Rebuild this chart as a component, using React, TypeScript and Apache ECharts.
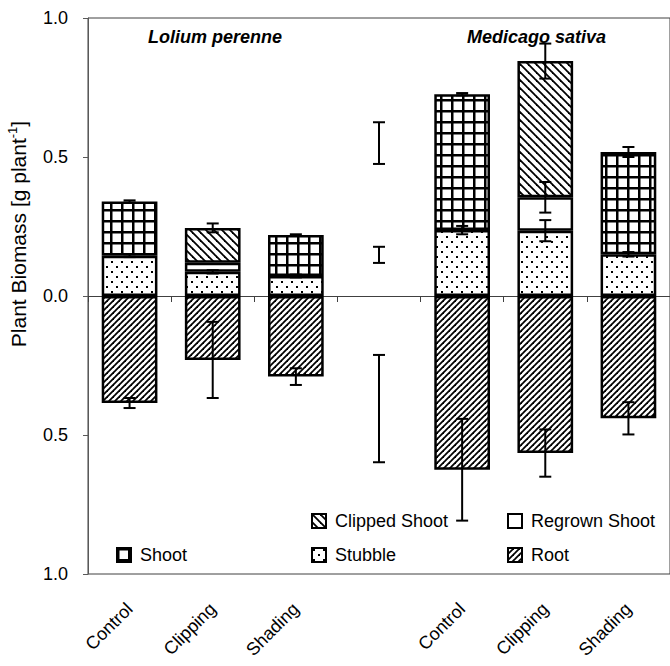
import React, { useEffect, useRef } from 'react';
import * as echarts from 'echarts';

const categories = ['Control', 'Clipping', 'Shading', '', 'Control', 'Clipping', 'Shading'];
const stubble = [0.145, 0.087, 0.072, null, 0.237, 0.235, 0.15];
const regrown = [null, 0.033, null, null, null, 0.12, null];
const clipped = [null, 0.125, null, null, null, 0.49, null];
const shoot = [0.195, null, 0.147, null, 0.489, null, 0.368];
const root = [-0.385, -0.23, -0.29, null, -0.625, -0.565, -0.44];

const stubbleErr = [0.005, 0.006, 0.005, null, 0.015, 0.038, 0.008];
const regrownErr = [null, null, null, null, null, 0.055, null];
const clippedErr = [null, 0.016, null, null, null, 0.063, null];
const shootErr = [0.004, null, 0.003, null, 0.004, null, 0.018];
const rootErr = [0.018, 0.137, 0.03, null, 0.183, 0.085, 0.058];

const lsdCategory = 3;
const lsdCenter = [0.55, 0.148, -0.405];
const lsdHalf = [0.075, 0.029, 0.193];

const FONT = '"Liberation Sans", Arial, sans-serif';

function makePattern(w: number, h: number, draw: (ctx: CanvasRenderingContext2D) => void) {
  const c = document.createElement('canvas');
  c.width = w;
  c.height = h;
  const ctx = c.getContext('2d') as CanvasRenderingContext2D;
  ctx.fillStyle = '#fff';
  ctx.fillRect(0, 0, w, h);
  ctx.fillStyle = '#000';
  ctx.strokeStyle = '#000';
  draw(ctx);
  return { image: c.toDataURL(), repeat: 'repeat', imageWidth: w, imageHeight: h } as any;
}

export default function App() {
  const ref = useRef<HTMLDivElement>(null);
  useEffect(() => {
    if (!ref.current) return;
    const chart = echarts.init(ref.current, undefined, { renderer: 'svg' });

    const shootPat = makePattern(11, 11, (ctx) => {
      ctx.fillRect(0, 0, 11, 2.5);
      ctx.fillRect(0, 0, 2.5, 11);
    });
    const stubblePat = makePattern(10, 10, (ctx) => {
      ctx.fillRect(1, 1, 2, 2);
      ctx.fillRect(6, 6, 2, 2);
    });
    const clippedPat = makePattern(8, 8, (ctx) => {
      ctx.lineWidth = 1.8;
      for (let k = -1; k <= 1; k++) {
        ctx.beginPath();
        ctx.moveTo(k * 8 - 1, -1);
        ctx.lineTo(k * 8 + 9, 9);
        ctx.stroke();
      }
    });
    const rootPat = makePattern(6, 6, (ctx) => {
      ctx.lineWidth = 1.8;
      for (let k = -1; k <= 1; k++) {
        ctx.beginPath();
        ctx.moveTo(k * 6 - 1, 7);
        ctx.lineTo(k * 6 + 7, -1);
        ctx.stroke();
      }
    });

    const sum = (...vals: (number | null)[]) => vals.reduce((a: number, b) => a + (b ?? 0), 0);
    const errData: number[][] = [];
    categories.forEach((_, i) => {
      if (stubbleErr[i] != null) errData.push([i, stubble[i] as number, stubbleErr[i] as number]);
      if (regrownErr[i] != null) errData.push([i, sum(stubble[i], regrown[i]), regrownErr[i] as number]);
      if (clippedErr[i] != null) errData.push([i, sum(stubble[i], regrown[i], clipped[i]), clippedErr[i] as number]);
      if (shootErr[i] != null) errData.push([i, sum(stubble[i], shoot[i]), shootErr[i] as number]);
      if (rootErr[i] != null) errData.push([i, root[i] as number, rootErr[i] as number]);
    });
    lsdCenter.forEach((c, j) => errData.push([lsdCategory, c, lsdHalf[j]]));

    const barItem = (color: any) => ({ color, borderColor: '#000', borderWidth: 2.5 });
    const barBase = { type: 'bar', stack: 'total', barWidth: '67%', barGap: '-100%' };

    const mkLegend = (name: string, left: number, top: number) => ({
      data: [name],
      left,
      top,
      padding: 0,
      icon: 'rect',
      itemWidth: 14,
      itemHeight: 14,
      selectedMode: false,
      itemStyle: { borderColor: '#000', borderWidth: 2 },
      textStyle: { fontSize: 18, fontFamily: FONT, color: '#000', padding: [0, 0, 0, 4] },
    });

    const option: any = {
      animation: false,
      backgroundColor: '#fff',
      grid: {
        left: 88,
        right: -13,
        top: 18,
        bottom: 92,
        show: true,
        borderColor: '#404040',
        borderWidth: 1,
        backgroundColor: 'transparent',
      },
      title: [
        {
          text: 'Lolium perenne',
          left: 148,
          top: 28,
          padding: 0,
          textStyle: { fontFamily: FONT, fontSize: 18, fontStyle: 'italic', fontWeight: 'bold', color: '#000' },
        },
        {
          text: 'Medicago sativa',
          left: 467,
          top: 28,
          padding: 0,
          textStyle: { fontFamily: FONT, fontSize: 18, fontStyle: 'italic', fontWeight: 'bold', color: '#000' },
        },
      ],
      legend: [
        mkLegend('Clipped Shoot', 311, 512),
        mkLegend('Regrown Shoot', 507, 512),
        mkLegend('Shoot', 116, 546),
        mkLegend('Stubble', 311, 546),
        mkLegend('Root', 507, 546),
      ],
      xAxis: [
        {
          type: 'category',
          data: categories,
          position: 'bottom',
          axisLine: { show: false, onZero: false },
          axisTick: { show: false },
          axisLabel: {
            interval: 0,
            rotate: 45,
            margin: 32,
            fontSize: 18,
            fontFamily: FONT,
            color: '#000',
          },
        },
        {
          type: 'category',
          data: categories,
          position: 'top',
          axisLine: { show: true, onZero: true, lineStyle: { color: '#404040', width: 1 } },
          axisTick: { show: true, inside: true, length: 6, lineStyle: { color: '#404040' } },
          axisLabel: { show: false },
        },
      ],
      yAxis: {
        type: 'value',
        min: -1,
        max: 1,
        interval: 0.5,
        axisLine: { show: true, onZero: false, lineStyle: { color: '#595959', width: 1 } },
        axisTick: { show: true, length: 5, lineStyle: { color: '#595959' } },
        splitLine: { show: false },
        axisLabel: {
          margin: 20,
          fontSize: 18,
          fontFamily: FONT,
          color: '#000',
          formatter: (v: number) => Math.abs(v).toFixed(1),
        },
      },
      graphic: [
        {
          type: 'text',
          x: 18,
          y: 234,
          rotation: Math.PI / 2,
          style: {
            text: '{a|Plant Biomass [g plant}{b|-1}{a|]}',
            align: 'center',
            verticalAlign: 'middle',
            rich: {
              a: { fontSize: 21, fontFamily: FONT, fill: '#000', lineHeight: 24 },
              b: { fontSize: 13, fontFamily: FONT, fill: '#000', verticalAlign: 'top', lineHeight: 14 },
            },
          },
        },
      ],
      series: [
        { ...barBase, name: 'Stubble', data: stubble, itemStyle: barItem(stubblePat) },
        { ...barBase, name: 'Regrown Shoot', data: regrown, itemStyle: barItem('#fff') },
        { ...barBase, name: 'Clipped Shoot', data: clipped, itemStyle: barItem(clippedPat) },
        { ...barBase, name: 'Shoot', data: shoot, itemStyle: barItem(shootPat) },
        { ...barBase, name: 'Root', data: root, itemStyle: barItem(rootPat) },
        {
          type: 'custom',
          name: 'errors',
          z: 10,
          data: errData,
          encode: { x: 0, y: 1 },
          renderItem: (params: any, api: any) => {
            const x = api.value(0);
            const c = api.value(1);
            const h = api.value(2);
            const top = api.coord([x, c + h]);
            const bot = api.coord([x, c - h]);
            const cx = top[0];
            const w = 6;
            const st = { stroke: '#000', lineWidth: 2 };
            return {
              type: 'group',
              children: [
                { type: 'line', shape: { x1: cx, y1: top[1], x2: cx, y2: bot[1] }, style: st },
                { type: 'line', shape: { x1: cx - w, y1: top[1], x2: cx + w, y2: top[1] }, style: st },
                { type: 'line', shape: { x1: cx - w, y1: bot[1], x2: cx + w, y2: bot[1] }, style: st },
              ],
            };
          },
        },
      ],
    };
    chart.setOption(option);
    return () => chart.dispose();
  }, []);
  return <div ref={ref} style={{ position: 'fixed', left: 0, top: 0, width: 670, height: 666 }} />;
}
